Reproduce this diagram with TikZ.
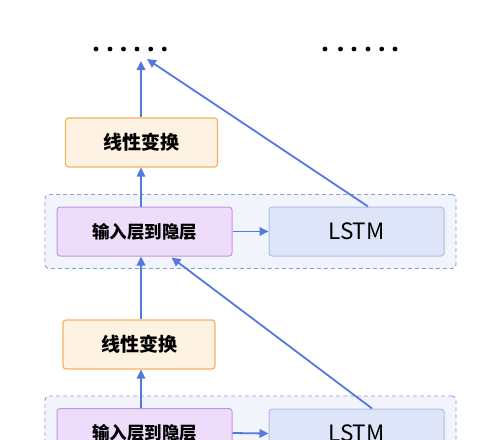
\documentclass[tikz,border=0pt]{standalone}
\usepackage{fontspec}
\setmainfont{Noto Sans CJK SC}
\usetikzlibrary{arrows.meta}
\definecolor{arrowblue}{HTML}{5479DE}
\definecolor{linfill}{HTML}{FEF2E2}
\definecolor{lindraw}{HTML}{F3B35E}
\definecolor{purfill}{HTML}{EEDCFB}
\definecolor{purdraw}{HTML}{C692E4}
\definecolor{lstmfill}{HTML}{DFE5F8}
\definecolor{lstmdraw}{HTML}{AEBDEB}
\definecolor{contfill}{HTML}{F2F4FC}
\definecolor{contdraw}{HTML}{8A9BD6}
\tikzset{
  linbox/.style={draw=lindraw, fill=linfill, line width=1.2pt, rounded corners=3pt,
    minimum width=152pt, minimum height=49pt, inner sep=0pt, font=\fontsize{19}{21}\selectfont\bfseries},
  purbox/.style={draw=purdraw, fill=purfill, line width=1pt, rounded corners=3pt,
    minimum width=175pt, minimum height=49pt, inner sep=0pt, font=\fontsize{17.5}{20}\selectfont\bfseries},
  lstmbox/.style={draw=lstmdraw, fill=lstmfill, line width=1pt, rounded corners=3pt,
    minimum width=175pt, minimum height=49pt, inner sep=0pt, font=\fontsize{22.5}{25}\selectfont},
  contbox/.style={draw=contdraw, fill=contfill, line width=0.9pt, dashed, dash pattern=on 4pt off 3pt,
    rounded corners=4pt, minimum width=411pt, minimum height=74pt, inner sep=0pt},
  arr/.style={draw=arrowblue, line width=1.8pt, -{Triangle[length=9pt,width=8.5pt]}},
  dotnode/.style={circle, fill=black, inner sep=0pt, minimum size=4.8pt},
}
\begin{document}
\begin{tikzpicture}[x=1pt,y=-1pt]
\useasboundingbox (0,0) rectangle (500,439);
% dots
\foreach \i/\x in {1/96,2/110,3/123.5,4/137,5/150.7,6/164.3}{\node[dotnode] (dl\i) at (\x,49) {};}
\foreach \i/\x in {1/325,2/340.5,3/354,4/368,5/381.7,6/395}{\node[dotnode] (dr\i) at (\x,49) {};}
\coordinate (t1) at (141,61);
\coordinate (t2) at (147,59);
% containers
\node[contbox] (c1) at (250.5,231.5) {};
\node[contbox] (c2) at (250.5,433) {};
% boxes
\node[linbox] (lin1) at (141.5,142.5) {线性变换};
\node[purbox] (p1) at (144.5,231.5) {输入层到隐层};
\node[lstmbox] (l1) at (356.5,231.5) {LSTM};
\node[linbox] (lin2) at (139,344.5) {线性变换};
\node[purbox] (p2) at (144.5,433) {输入层到隐层};
\node[lstmbox] (l2) at (356.5,433.5) {LSTM};
% arrows
\draw[arr] (lin1.north -| t1) -- (t1);
\draw[arr] ([xshift=11.5pt]l1.north) -- (t2);
\draw[arr] (p1.north -| t1) -- (lin1.south -| t1);
\draw[arr] (p1.east) -- (l1.west);
\draw[arr] (lin2.north -| t1) -- (p1.south -| t1);
\draw[arr] ([xshift=15.5pt]l2.north) -- ([xshift=27pt,yshift=-1pt]p1.south);
\draw[arr] (p2.north -| t1) -- (lin2.south -| t1);
\draw[arr] (p2.east) -- (l2.west);
\end{tikzpicture}
\end{document}
